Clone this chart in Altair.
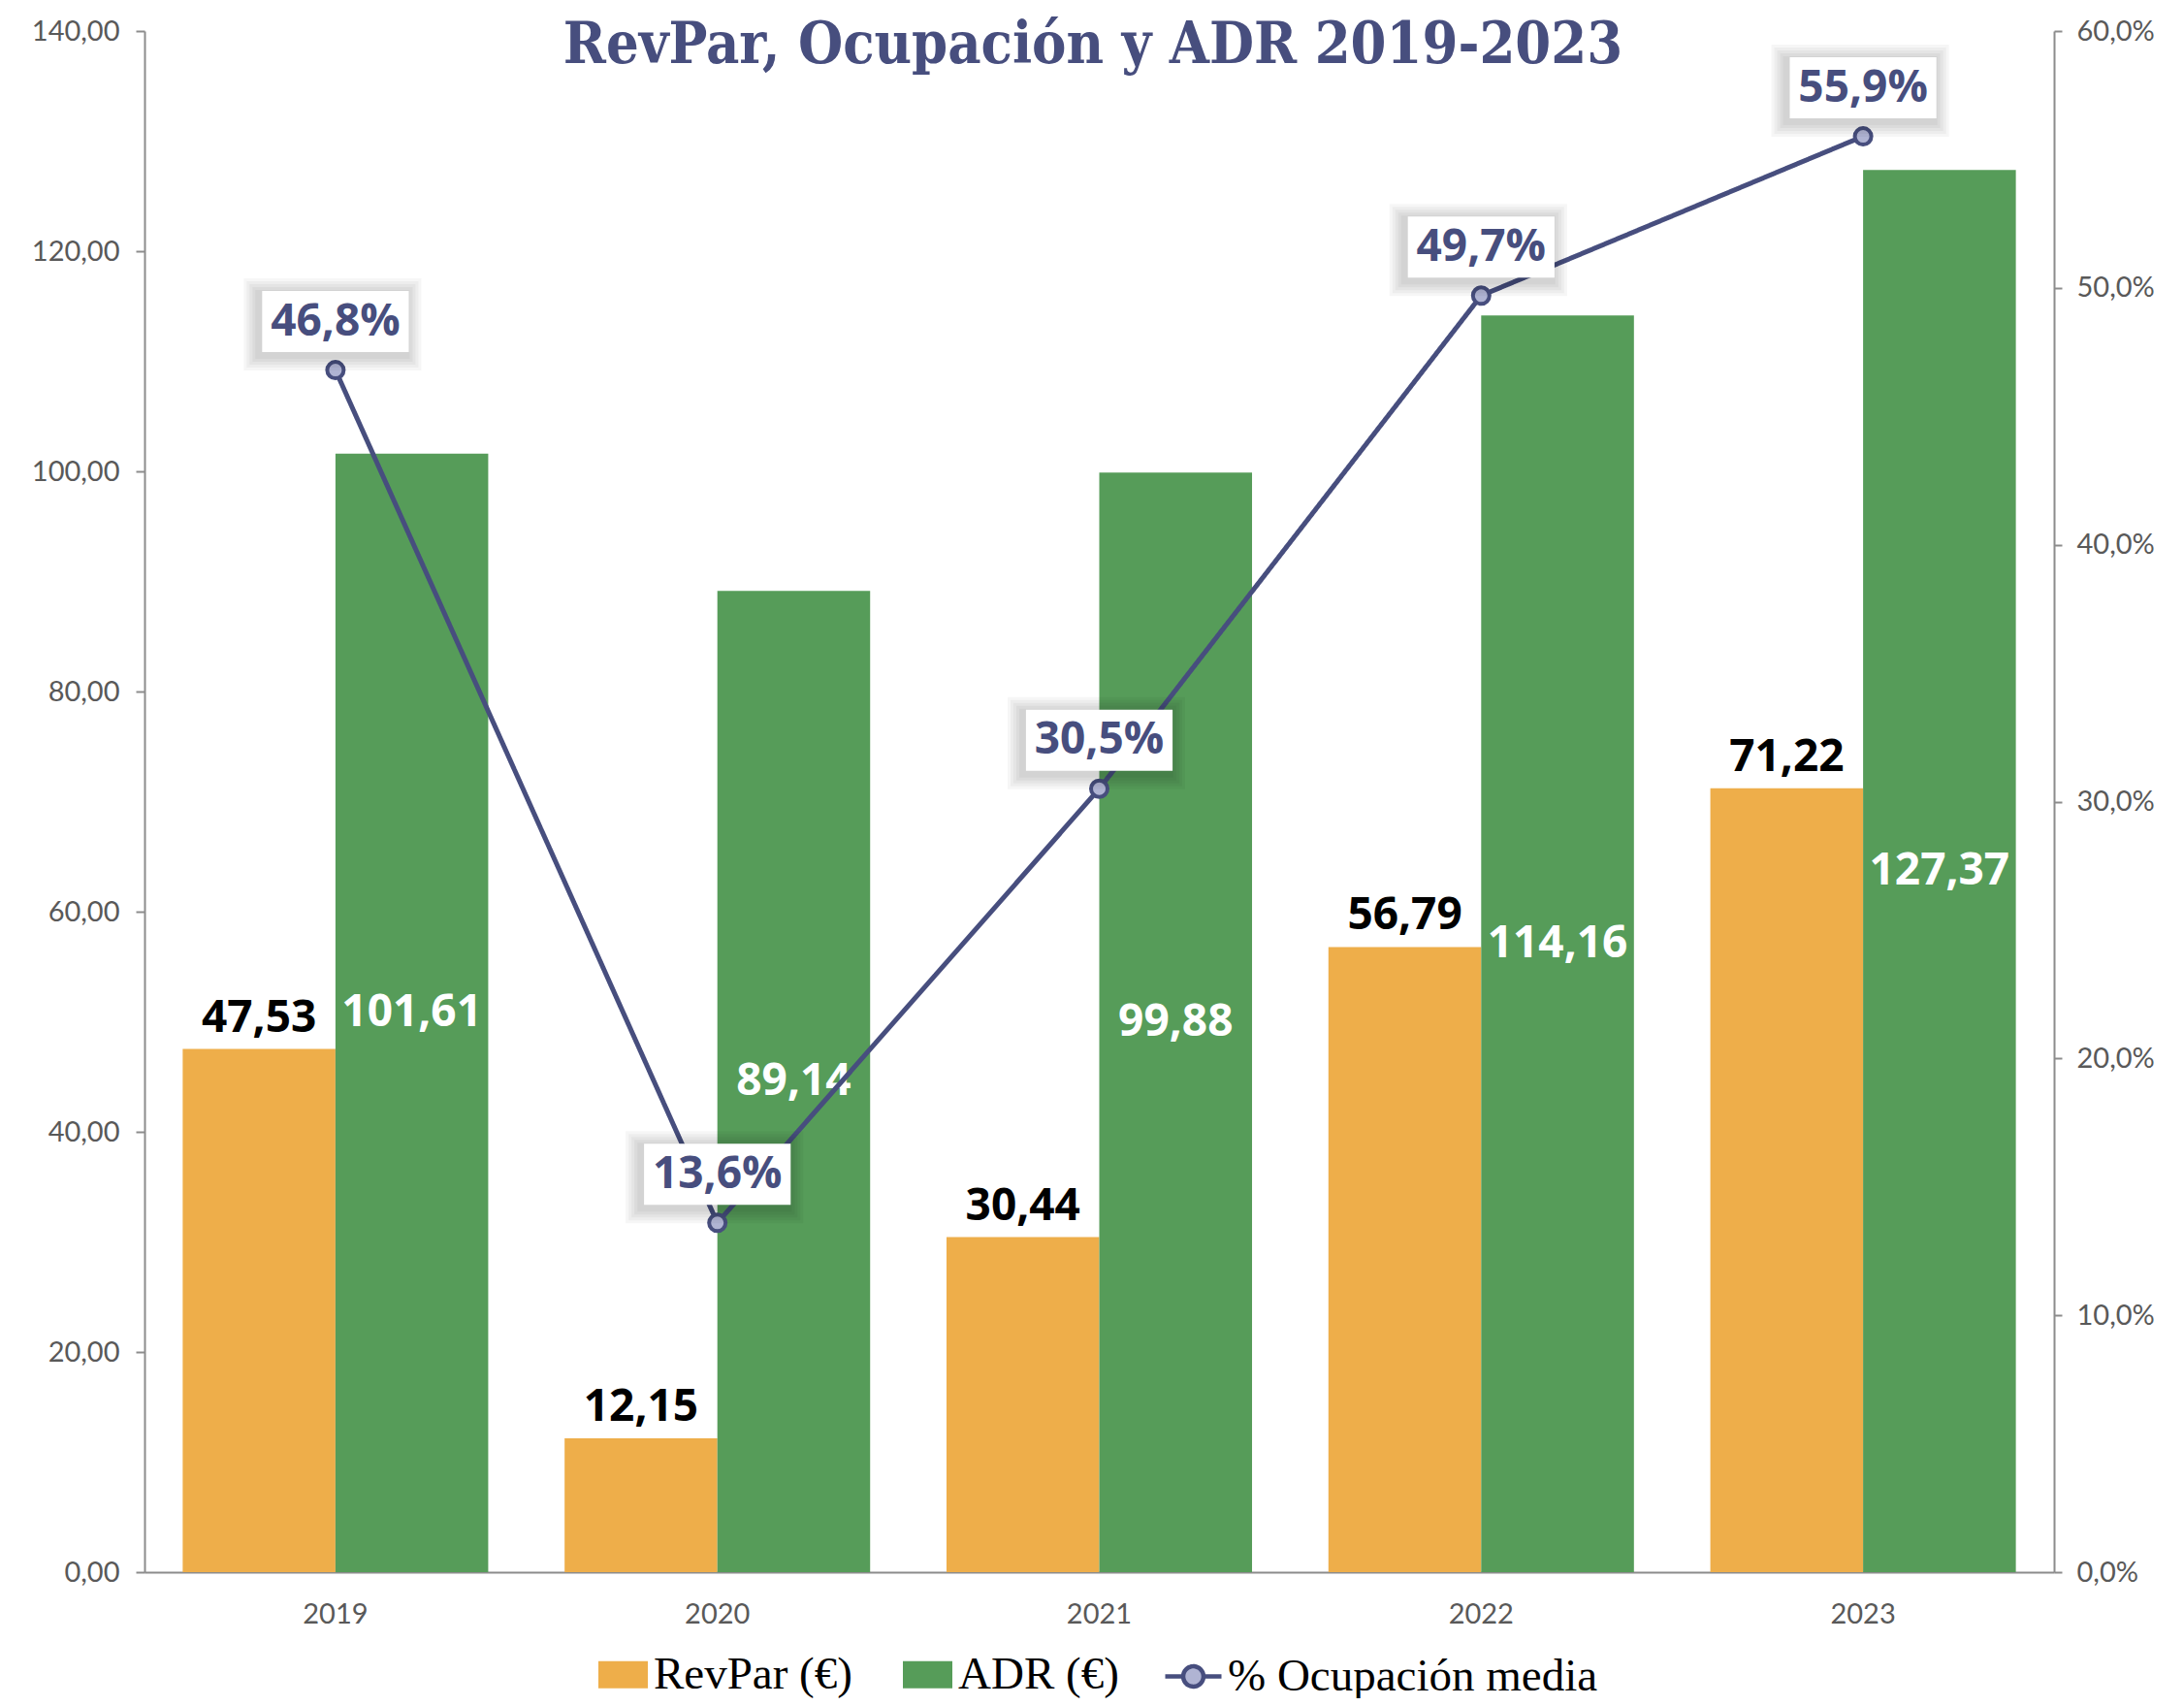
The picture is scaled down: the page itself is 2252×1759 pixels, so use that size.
import altair as alt
import pandas as pd

# ---- data ----
years = ["2019", "2020", "2021", "2022", "2023"]
revpar = [47.53, 12.15, 30.44, 56.79, 71.22]
adr = [101.61, 89.14, 99.88, 114.16, 127.37]
ocupacion = [46.8, 13.6, 30.5, 49.7, 55.9]
series = ["RevPar (€)", "ADR (€)"]
line_name = "% Ocupación media"
title_text = "RevPar, Ocupación y ADR 2019-2023"

# ---- style ----
ORANGE = "#EEAE4A"
GREEN = "#569C59"
NAVY = "#474E7E"
LAVENDER = "#B0B4D3"
AXIS_GREY = "#8C8C8C"
LABEL_GREY = "#595959"
SANS = "Lato"
BOLD_SANS = "Open Sans"
SERIF = "Liberation Serif"
TITLE_FONT = "DejaVu Serif Condensed, DejaVu Serif"

W, H = 1969, 1589


def fmt(v, d):
    return f"{v:.{d}f}".replace(".", ",")


bars_df = pd.DataFrame({
    "year": years * 2,
    "serie": [series[0]] * len(years) + [series[1]] * len(years),
    "value": revpar + adr,
})
bars_df["label"] = [fmt(v, 2) for v in bars_df["value"]]
bars_df["half"] = bars_df["value"] / 2

line_df = pd.DataFrame({
    "year": years,
    "pct": ocupacion,
    "label": [fmt(v, 1) + "%" for v in ocupacion],
    "serie": [line_name] * len(years),
})

x_enc = alt.X(
    "year:N", sort=years, title=None,
    scale=alt.Scale(paddingInner=0.2, paddingOuter=0.1),
    axis=alt.Axis(labelAngle=0, labelFont=SANS, labelFontSize=29, labelColor=LABEL_GREY,
                  ticks=False, domainColor=AXIS_GREY, domainWidth=2, labelPadding=29),
)
xoff = alt.XOffset("serie:N", sort=series,
                   scale=alt.Scale(domain=series, paddingInner=0, paddingOuter=0))

left_axis = alt.Axis(values=list(range(0, 141, 20)),
                     labelExpr="replace(format(datum.value, '.2f'), '.', ',')",
                     grid=False, labelFont=SANS, labelFontSize=29, labelColor=LABEL_GREY,
                     domainColor=AXIS_GREY, domainWidth=2, tickColor=AXIS_GREY, tickWidth=2,
                     tickSize=9, labelPadding=17)
right_axis = alt.Axis(orient="right", values=list(range(0, 61, 10)),
                      labelExpr="replace(format(datum.value, '.1f'), '.', ',') + '%'",
                      grid=False, labelFont=SANS, labelFontSize=29, labelColor=LABEL_GREY,
                      domainColor=AXIS_GREY, domainWidth=2, tickColor=AXIS_GREY, tickWidth=2,
                      tickSize=8, labelPadding=15)

y_left = alt.Y("value:Q", title=None, scale=alt.Scale(domain=[0, 140]), axis=left_axis)
y_left_half = alt.Y("half:Q", title=None, scale=alt.Scale(domain=[0, 140]), axis=left_axis)
y_right = alt.Y("pct:Q", title=None, scale=alt.Scale(domain=[0, 60]), axis=right_axis)

rect_path = "M-1,-0.55H1V0.55H-1Z"
line_sym = ("M-1,0H-0.36M0.36,0H1M-0.36,0A0.36,0.36 0 1,0 0.36,0"
            "A0.36,0.36 0 1,0 -0.36,0Z")

base_bars = alt.Chart(bars_df)

bars = base_bars.mark_bar().encode(
    x=x_enc, xOffset=xoff, y=y_left,
    color=alt.Color("serie:N", sort=series,
                    scale=alt.Scale(domain=series, range=[ORANGE, GREEN]),
                    legend=alt.Legend(orient="none", legendX=468, legendY=1669,
                                      direction="horizontal", title=None,
                                      symbolType=rect_path, symbolSize=2601,
                                      symbolStrokeWidth=0, labelFont=SERIF,
                                      labelFontSize=47, labelColor="black",
                                      labelOffset=6, columnPadding=52, padding=0,
                                      labelLimit=0)),
)

revpar_text = base_bars.transform_filter(
    alt.datum.serie == series[0]
).mark_text(font=BOLD_SANS, fontWeight="bold", fontSize=46, color="black",
            baseline="alphabetic", dy=-18).encode(
    x=x_enc, xOffset=xoff, y=y_left, text="label:N")

adr_text = base_bars.transform_filter(
    alt.datum.serie == series[1]
).mark_text(font=BOLD_SANS, fontWeight="bold", fontSize=46, color="white",
            baseline="middle").encode(
    x=x_enc, xOffset=xoff, y=y_left_half, text="label:N")

left = alt.layer(bars, revpar_text, adr_text)

base_line = alt.Chart(line_df)

line = base_line.mark_line(color=NAVY, strokeWidth=5).encode(
    x=x_enc, y=y_right,
    strokeDash=alt.StrokeDash("serie:N",
                              scale=alt.Scale(domain=[line_name], range=[[1, 0]]),
                              legend=alt.Legend(orient="none", legendX=1050, legendY=1665,
                                                title=None, symbolType=line_sym,
                                                symbolSize=3364, symbolFillColor=LAVENDER,
                                                symbolStrokeColor=NAVY, symbolStrokeWidth=4.5,
                                                labelFont=SERIF, labelFontSize=47,
                                                labelColor="black", labelOffset=4,
                                                padding=0, labelLimit=0)),
)

points = base_line.mark_point(shape="circle", filled=True, fill=LAVENDER, stroke=NAVY,
                              strokeWidth=4, size=290, opacity=1).encode(
    x=x_enc, y=y_right)

# soft shadow behind the label boxes: several faint, growing boxes
shadow_paths = []
for k in [16, 13, 10, 7, 4]:
    e = k / 63.0
    hw = 1.2 + e
    hh = 0.5 + e
    shadow_paths.append(f"M{-hw:.3f},{-hh:.3f}H{hw:.3f}V{hh:.3f}H{-hw:.3f}Z")
shadows = [
    base_line.mark_point(shape=p, filled=True, fill="#000000", fillOpacity=0.035,
                         strokeWidth=0, size=15876, xOffset=-3, yOffset=-47).encode(
        x=x_enc, y=y_right)
    for p in shadow_paths
]

boxes = base_line.mark_point(shape="M-1.2,-0.5H1.2V0.5H-1.2Z", filled=True, fill="white",
                             fillOpacity=1, opacity=1, strokeWidth=0, size=15876,
                             yOffset=-50).encode(x=x_enc, y=y_right)

pct_text = base_line.mark_text(font=BOLD_SANS, fontWeight="bold", fontSize=46, color=NAVY,
                               baseline="middle", dy=-50).encode(
    x=x_enc, y=y_right, text="label:N")

right = alt.layer(line, points, *shadows, boxes, pct_text)

title_layer = alt.Chart(pd.DataFrame({"t": [title_text]})).mark_text(
    font=TITLE_FONT, fontWeight="bold", fontSize=59, color=NAVY, align="center",
    baseline="alphabetic").encode(x=alt.value(978), y=alt.value(33), text="t:N")

chart = alt.layer(left, right, title_layer).resolve_scale(
    y="independent"
).properties(
    width=W, height=H,
    autosize=alt.AutoSizeParams(type="none"),
    padding={"left": 141, "top": 24, "right": 126, "bottom": 130},
    background="white",
).configure_view(stroke=None)

chart.save("out.html", embed_options={"renderer": "svg", "actions": False})
